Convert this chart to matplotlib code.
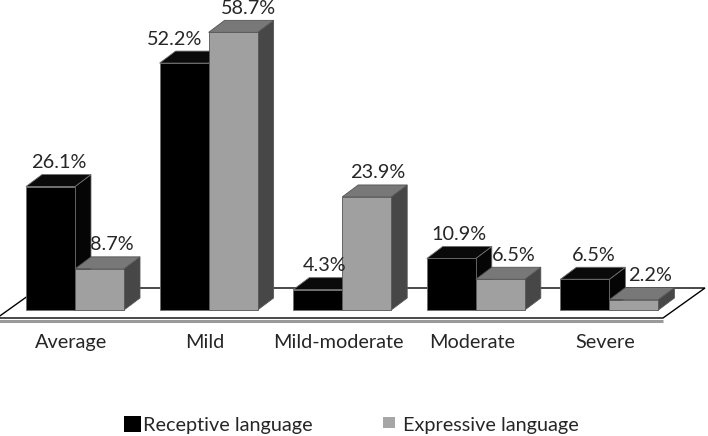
import matplotlib
matplotlib.use("Agg")
import matplotlib.pyplot as plt
from matplotlib.patches import Polygon, Rectangle

# ---- data ----
categories = ["Average", "Mild", "Mild-moderate", "Moderate", "Severe"]
receptive = [26.1, 52.2, 4.3, 10.9, 6.5]
expressive = [8.7, 58.7, 23.9, 6.5, 2.2]
series_names = ["Receptive language", "Expressive language"]

# ---- layout (pixels) ----
FW, FH = 708, 436
PX_X = 133.6      # px per category
PX_Y = 4.73       # px per percent
X0_PX = 75        # pixel x of category 0 centre
Y0_PX = 310       # pixel y (from top) of value 0
W = 49 / PX_X
DX = 16 / PX_X
DY = 12 / PX_Y

plt.rcParams['font.family'] = ['Lato', 'DejaVu Sans']
TXT = '#262626'
FS = 14.3

fig = plt.figure(figsize=(FW / 100, FH / 100), dpi=100)
ax = fig.add_axes([0, 0, 1, 1])
ax.set_xlim(-X0_PX / PX_X, (FW - X0_PX) / PX_X)
ax.set_ylim(-(FH - Y0_PX) / PX_Y, Y0_PX / PX_Y)
ax.axis('off')

# ---- floor ----
fy = -8 / PX_Y
by = 22 / PX_Y
fl = (-3 - X0_PX) / PX_X
fr = (663 - X0_PX) / PX_X
odx = 42 / PX_X
floor = Polygon([(fl, fy), (fr, fy), (fr + odx, by), (fl + odx, by)], closed=True,
                facecolor='white', edgecolor='black', lw=1.0, zorder=1)
ax.add_patch(floor)
ax.plot([fl, fr], [fy - 3 / PX_Y, fy - 3 / PX_Y], color='#9a9a9a', lw=2.2, zorder=0.9,
        solid_capstyle='butt')

styles = [
    dict(front='#000000', top='#0a0a0a', side='#050505', edge='#6e6e6e'),
    dict(front='#a0a0a0', top='#787878', side='#474747', edge='#555555'),
]

xs = list(range(len(categories)))
z = 2
for i in xs:
    for s, vals in enumerate([receptive, expressive]):
        st = styles[s]
        v = vals[i]
        x0 = i - W if s == 0 else i
        ax.bar(x0, v, width=W, align='edge', color=st['front'], edgecolor=st['edge'],
               lw=0.6, zorder=z + 0.2)
        top = Polygon([(x0, v), (x0 + W, v), (x0 + W + DX, v + DY), (x0 + DX, v + DY)],
                      closed=True, facecolor=st['top'], edgecolor=st['edge'], lw=0.6,
                      zorder=z + 0.1)
        side = Polygon([(x0 + W, 0), (x0 + W + DX, DY), (x0 + W + DX, v + DY), (x0 + W, v)],
                       closed=True, facecolor=st['side'], edgecolor=st['edge'], lw=0.6,
                       zorder=z)
        ax.add_patch(side)
        ax.add_patch(top)
        z += 1

# ---- value labels ----
nudge = [[0, -17, -1, 0, 1], [4, 7, 3, 5, 8]]
for s, vals in enumerate([receptive, expressive]):
    for i, v in enumerate(vals):
        xc = (i - W / 2 if s == 0 else i + W / 2) + DX / 2 + nudge[s][i] / PX_X
        zo = 100 if s == 0 else 1.95 + 2 * i
        ax.text(xc, v + DY + 12 / PX_Y, f"{v:.1f}%", ha='center', va='center',
                fontsize=FS, color=TXT, zorder=zo)

# ---- category labels ----
for i, c in enumerate(categories):
    ax.text(i - 4 / PX_X, -(342 - Y0_PX) / PX_Y, c, ha='center', va='center',
            fontsize=FS, color=TXT)

# ---- legend ----
def fx(px):
    return px / FW

def fyy(py):
    return 1 - py / FH

fig.patches.append(Rectangle((fx(124), fyy(432)), 17 / FW, 16 / FH, transform=fig.transFigure,
                             facecolor='black', edgecolor='none'))
fig.text(fx(143), fyy(425), series_names[0], ha='left', va='center', fontsize=FS, color=TXT)
fig.patches.append(Rectangle((fx(383), fyy(428)), 12 / FW, 11 / FH, transform=fig.transFigure,
                             facecolor='#a6a6a6', edgecolor='none'))
fig.text(fx(403), fyy(425), series_names[1], ha='left', va='center', fontsize=FS, color=TXT)

fig.savefig("out.png", dpi=100, facecolor='white')
